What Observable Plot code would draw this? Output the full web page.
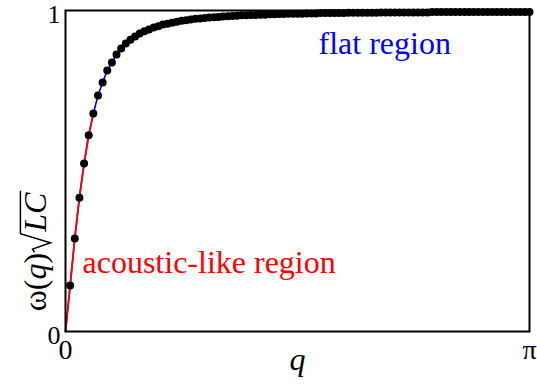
<!DOCTYPE html>
<html>
<head>
<meta charset="utf-8">
<script src="https://cdn.jsdelivr.net/npm/d3@7"></script>
<script src="https://cdn.jsdelivr.net/npm/@observablehq/plot@0.6"></script>
<style>
  body { margin: 0; background: #fff; }
  #chart { width: 537px; height: 391px; }
  #chart svg text { font-family: "Liberation Serif", "DejaVu Serif", "Times New Roman", Times, serif; }
</style>
</head>
<body>
<div id="chart"></div>
<script>
// Dispersion ω(q)√LC sampled on an even grid q_k = kπ/100, k = 0..100
const samples = 100;
const omega = [
  0,
  0.143, 0.290, 0.417, 0.523, 0.611, 0.679, 0.735, 0.776, 0.813, 0.838,
  0.863, 0.882, 0.897, 0.909, 0.919, 0.928, 0.935, 0.941, 0.947, 0.951,
  0.956, 0.959, 0.962, 0.965, 0.968, 0.970, 0.972, 0.974, 0.975, 0.977,
  0.978, 0.979, 0.980, 0.981, 0.982, 0.983, 0.984, 0.985, 0.985, 0.986,
  0.986, 0.987, 0.987, 0.988, 0.988, 0.989, 0.989, 0.990, 0.990, 0.990,
  0.990, 0.991, 0.991, 0.991, 0.992, 0.992, 0.992, 0.992, 0.992, 0.992,
  0.993, 0.993, 0.993, 0.993, 0.993, 0.993, 0.993, 0.994, 0.994, 0.994,
  0.994, 0.994, 0.994, 0.994, 0.994, 0.994, 0.994, 0.994, 0.995, 0.995,
  0.995, 0.995, 0.995, 0.995, 0.995, 0.995, 0.995, 0.995, 0.995, 0.995,
  0.995, 0.995, 0.995, 0.995, 0.995, 0.995, 0.995, 0.995, 0.995, 0.995
];
// last grid index drawn in red (the acoustic, nearly linear part)
const acousticEnd = 6;

const xTicks = [0, Math.PI];
const xTickLabels = ["0", "π"];
const yTicks = [0, 1];
const yTickLabels = ["0", "1"];

const regionLabels = [
  {q: 0.115, w: 0.215, label: "acoustic-like region", color: "red"},
  {q: 1.713, w: 0.895, label: "flat region", color: "blue"}
];

const curve = omega.map((w, k) => ({k, q: k * Math.PI / samples, w}));

const serif = "Liberation Serif, DejaVu Serif, Times New Roman, serif";

const chart = Plot.plot({
  width: 537,
  height: 391,
  marginLeft: 65,
  marginRight: 8,
  marginTop: 10,
  marginBottom: 60,
  style: {fontFamily: serif, fontSize: "27px", background: "white", overflow: "visible"},
  x: {domain: [0, Math.PI]},
  y: {domain: [0, 1]},
  marks: [
    Plot.line(curve, {x: "q", y: "w", stroke: "blue", strokeWidth: 1.6}),
    Plot.line(curve.filter(d => d.k <= acousticEnd), {x: "q", y: "w", stroke: "red", strokeWidth: 1.8}),
    Plot.dot(curve.filter(d => d.k > 0), {x: "q", y: "w", r: 4, fill: "black"}),
    Plot.text(regionLabels.filter(d => d.color === "red"), {
      x: "q", y: "w", text: "label", fill: "red", textAnchor: "start",
      fontSize: 32, fontFamily: serif
    }),
    Plot.text(regionLabels.filter(d => d.color === "blue"), {
      x: "q", y: "w", text: "label", fill: "blue", textAnchor: "start",
      fontSize: 32, fontFamily: serif
    }),
    Plot.axisX({
      ticks: xTicks,
      tickFormat: d => xTickLabels[xTicks.indexOf(d)],
      tickSize: 0, tickPadding: 8, label: null, fontFamily: serif, fontSize: 28
    }),
    Plot.axisY({
      ticks: yTicks,
      tickFormat: d => yTickLabels[yTicks.indexOf(d)],
      tickSize: 0, tickPadding: 5, label: null, fontFamily: serif, fontSize: 26, dy: 4
    }),
    Plot.frame({stroke: "black", strokeWidth: 2}),
    Plot.text(["q"], {
      frameAnchor: "bottom", text: d => d, dy: 38,
      fontStyle: "italic", fontSize: 32, fontFamily: serif
    })
  ]
});

document.getElementById("chart").append(chart);

// Rotated y-axis title: ω(q) followed by a drawn radical over italic LC
const fs = 32;
const g = d3.select(chart).append("g")
  .attr("transform", "translate(46,252) rotate(-90)")
  .attr("font-size", fs)
  .attr("fill", "black");

const title = g.append("text").attr("x", 0).attr("y", 0);
title.append("tspan").text("ω(");
title.append("tspan").attr("font-style", "italic").text("q");
title.append("tspan").text(")");
title.append("tspan").attr("font-style", "italic").attr("dx", 0.66 * fs).text("LC");

const node = title.node();
const n = node.getNumberOfChars();
const lStart = node.getStartPositionOfChar(n - 2).x;
const cEnd = node.getEndPositionOfChar(n - 1).x;
const r0 = lStart - 0.64 * fs;
const barY = -0.8 * fs;
g.append("path")
  .attr("d", [
    `M${r0},${-0.36 * fs}`,
    `L${r0 + 0.1 * fs},${-0.42 * fs}`,
    `L${r0 + 0.3 * fs},${0.14 * fs}`,
    `L${r0 + 0.58 * fs},${barY}`,
    `L${cEnd + 2},${barY}`
  ].join(""))
  .attr("fill", "none")
  .attr("stroke", "black")
  .attr("stroke-width", 1.5)
  .attr("stroke-linejoin", "miter");
</script>
</body>
</html>
